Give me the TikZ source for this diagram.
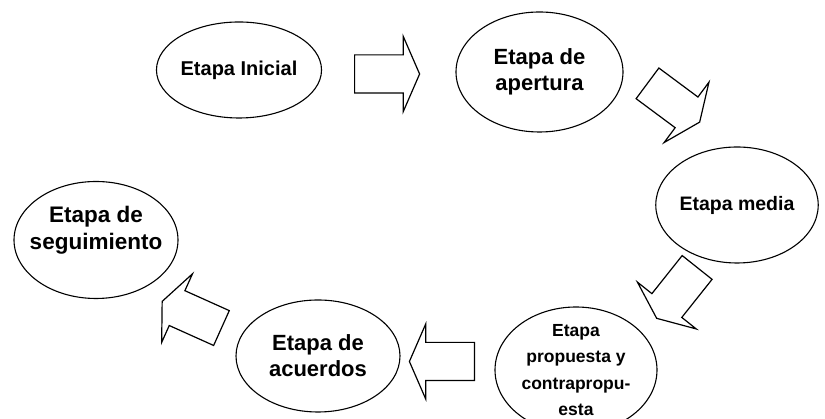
\documentclass[tikz,border=0pt]{standalone}
\usepackage{fontspec}
\setmainfont{Liberation Sans}
\usetikzlibrary{shapes.geometric,shapes.arrows}
\tikzset{
  stage/.style={ellipse, draw, line width=1.1pt, align=center, inner sep=0pt,
    font=\bfseries\fontsize{22}{26}\selectfont},
  flow/.style={single arrow, draw, line width=1.2pt, inner xsep=0pt, inner ysep=18.5pt,
    minimum height=65pt, single arrow head extend=18.5pt,
    single arrow tip angle=133, anchor=tail}
}
\begin{document}
\begin{tikzpicture}[x=1pt,y=1pt]
\useasboundingbox (0,0) rectangle (825,419);
\clip (0,0) rectangle (825,419);
% stages
\node[stage, minimum width=156pt, minimum height=96pt, font=\bfseries\fontsize{20}{25}\selectfont] (ini) at (239,349){Etapa Inicial};
\node[stage, minimum width=167pt, minimum height=120pt, inner ysep=-12pt] (ape) at (539.5,347){Etapa de\\apertura};
\node[stage, minimum width=136pt, minimum height=116pt, font=\bfseries\fontsize{19.5}{25}\selectfont] (med) at (737,214){Etapa media};
\node[stage, minimum width=162pt, minimum height=126pt, inner ysep=-22pt, font=\bfseries\fontsize{17.5}{26.5}\selectfont] (prop) at (576,49){Etapa\\propuesta y\\contrapropu-\\esta};
\node[stage, minimum width=164pt, minimum height=112pt, inner ysep=-12pt] (acu) at (318,63){Etapa de\\acuerdos};
\node[stage, minimum width=164pt, minimum height=117pt, inner xsep=-30pt, inner ysep=-30pt, text depth=24pt, font=\bfseries\fontsize{22.5}{27}\selectfont] (seg) at (96,179){Etapa de\\seguimiento};
% block arrows between the stages
\node[flow, rotate=0] (ini-ape) at (354,345){};
\node[flow, rotate=-36.6] (ape-med) at (647,336){};
\node[flow, rotate=-128.5] (med-prop) at (697.5,152){};
\node[flow, rotate=180] (prop-acu) at (475,57.5){};
\node[flow, rotate=155.8] (acu-seg) at (222,90.7){};
\end{tikzpicture}
\end{document}
